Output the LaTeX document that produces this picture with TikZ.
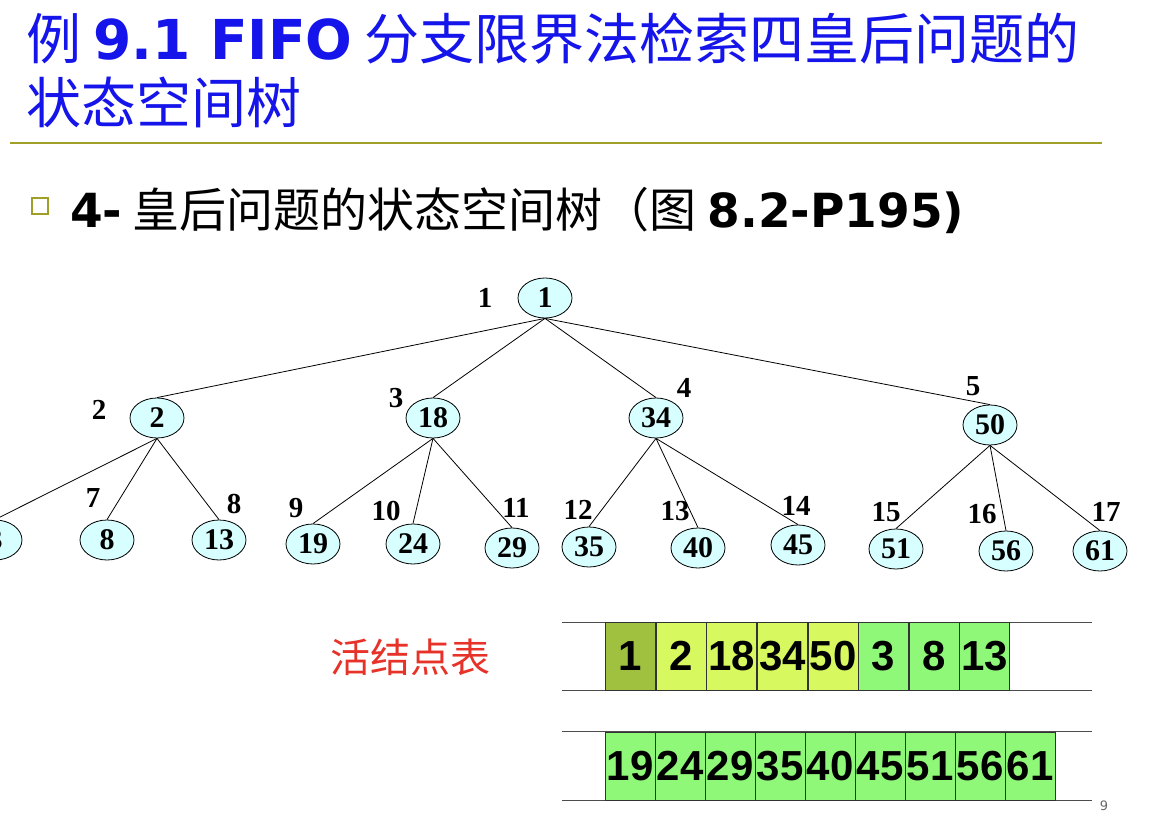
\documentclass[tikz,border=0pt]{standalone}
\usepackage{fontspec}
\setmainfont{Liberation Serif}
\newfontfamily\cjk{Noto Sans CJK SC}
\newfontfamily\dvs{DejaVu Sans}
\newfontfamily\lsans{Liberation Sans}
\definecolor{ttl}{RGB}{20,20,235}
\definecolor{oliv}{RGB}{160,160,40}
\definecolor{nfill}{RGB}{215,255,255}
\definecolor{qa}{RGB}{160,192,64}
\definecolor{qb}{RGB}{216,248,96}
\definecolor{qc}{RGB}{144,248,120}
\tikzset{
 tn/.style={ellipse,draw=black,fill=nfill,line width=0.8pt,minimum width=54pt,minimum height=40pt,inner sep=0pt,font=\fontsize{30}{30}\selectfont\bfseries},
 lb/.style={font=\fontsize{29}{29}\selectfont\bfseries},
 qbox/.style={draw=black!80,line width=0.8pt,minimum width=50pt,minimum height=68pt,inner sep=0pt,font=\lsans\fontsize{42}{42}\selectfont\bfseries},
 ed/.style={line width=0.8pt}
}
\usetikzlibrary{shapes.geometric}
\begin{document}
\begin{tikzpicture}[x=1pt,y=-1pt]
\useasboundingbox (0,0) rectangle (1154,818);
\begin{scope}
\clip (0,0) rectangle (1154,818);
% title
\node[anchor=base west,text=ttl,inner sep=0pt] (t1) at (26,60) {\cjk\fontsize{55}{55}\selectfont 例 {\dvs\bfseries 9.1 FIFO} 分支限界法检索四皇后问题的};
\node[anchor=base west,text=ttl,inner sep=0pt] (t2) at (26,124) {\cjk\fontsize{55}{55}\selectfont 状态空间树};
\draw[oliv,line width=1.5pt] (10,143) -- (1102,143);
\node[draw=oliv,line width=2.5pt,minimum size=16pt,inner sep=0pt] (bul) at (40,206) {};
\node[anchor=base west,inner sep=0pt] (sub) at (70,228) {\cjk\fontsize{47}{47}\selectfont{\dvs\bfseries 4-} 皇后问题的状态空间树（图 {\dvs\bfseries 8.2-P195)}};
% tree
\node[tn] (n1) at (545,298) {1};
\node[tn] (n2) at (157,418) {2};
\node[tn] (n18) at (433,418) {18};
\node[tn] (n34) at (656,418) {34};
\node[tn] (n50) at (990,425) {50};
\node[tn] (n3) at (-5,540) {3};
\node[tn] (n8) at (107,540) {8};
\node[tn] (n13) at (219,540) {13};
\node[tn] (n19) at (313,544) {19};
\node[tn] (n24) at (413,544) {24};
\node[tn] (n29) at (512,548) {29};
\node[tn] (n35) at (589,547) {35};
\node[tn] (n40) at (698,548) {40};
\node[tn] (n45) at (798,545) {45};
\node[tn] (n51) at (896,549) {51};
\node[tn] (n56) at (1006,551) {56};
\node[tn] (n61) at (1100,551) {61};
\foreach \a/\b in {n1/n2,n1/n18,n1/n34,n1/n50,n2/n3,n2/n8,n2/n13,n18/n19,n18/n24,n18/n29,n34/n35,n34/n40,n34/n45,n50/n51,n50/n56,n50/n61}
 \draw[ed] (\a.south) -- (\b.north);
\foreach \t/\x/\y [count=\i] in {1/485/298,2/99/410,3/396/398,4/684/388,5/973/386,7/93/498,8/234/504,9/296/508,10/386/511,11/516/508,12/578/510,13/675/511,14/796/506,15/886/512,16/982/514,17/1106/512}
 \node[lb] (l\i) at (\x,\y) {\t};
% queue
\node[text={rgb,255:red,230;green,50;blue,40},font=\cjk\fontsize{40}{40}\selectfont] (ql) at (410,657) {活结点表};
\draw[black!70,line width=1pt] (562,622) -- (1092,622) (562,690) -- (1092,690);
\draw[black!70,line width=1pt] (562,731) -- (1092,731) (562,800) -- (1092,800);
\foreach \t/\c [count=\i] in {1/qa,2/qb,18/qb,34/qb,50/qb,3/qc,8/qc,13/qc}
 \node[qbox,fill=\c] (qa\i) at (580+\i*50.6,656) {\t};
\foreach \t [count=\i] in {19,24,29,35,40,45,51,56,61}
 \node[qbox,fill=qc] (qb\i) at (580+\i*50,766) {\t};
\node[text=black!60,font=\dvs\fontsize{13}{13}\selectfont] (pg) at (1104,806) {9};
\end{scope}
\end{tikzpicture}
\end{document}
